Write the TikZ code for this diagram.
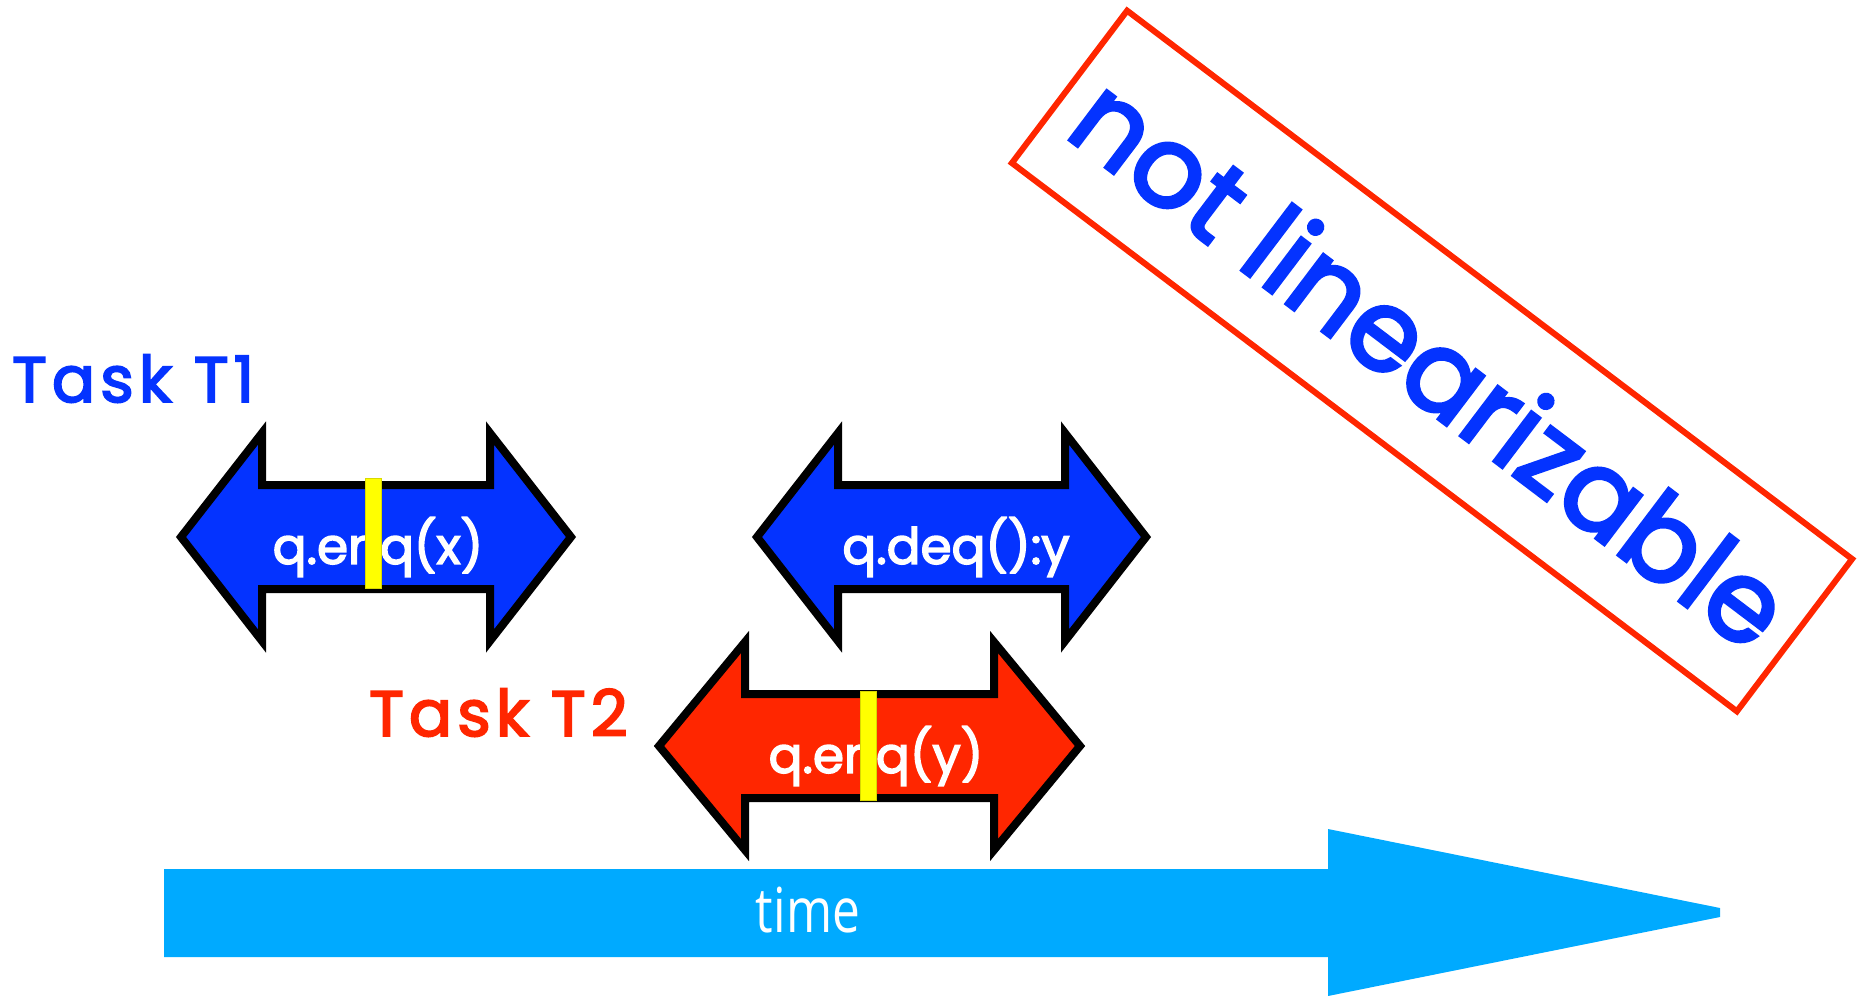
\documentclass[tikz,border=0pt]{standalone}
\usepackage{fontspec}
\setmainfont{Poppins}[FakeBold=3]
\newfontfamily\spacedfont{Poppins}[FakeBold=3, LetterSpace=8]
\newfontfamily\timefont{Open Sans}
\definecolor{taskblue}{RGB}{4,51,255}
\definecolor{taskred}{RGB}{255,38,0}
\definecolor{timecyan}{RGB}{0,170,255}
\definecolor{lpoint}{RGB}{255,255,0}

% double-headed interval arrow: centre x, centre y, half length, head length, fill
\newcommand{\intervalarrow}[5]{%
  \draw[arrowbody, fill=#5]
    ({#1-#3},#2) -- ({#1-#3+#4},{#2-104}) -- ({#1-#3+#4},{#2-52})
    -- ({#1+#3-#4},{#2-52}) -- ({#1+#3-#4},{#2-104}) -- ({#1+#3},#2)
    -- ({#1+#3-#4},{#2+104}) -- ({#1+#3-#4},{#2+52})
    -- ({#1-#3+#4},{#2+52}) -- ({#1-#3+#4},{#2+104}) -- cycle;}

\tikzset{
  arrowbody/.style={draw=black, line width=8pt, line join=miter},
  optext/.style={text=white, font=\fontsize{50}{56}\selectfont, inner sep=0pt},
  tasklabel/.style={font=\spacedfont\fontsize{64}{70}\selectfont, anchor=base west, inner sep=0pt},
  lpbar/.style={fill=lpoint, draw=lpoint!85!black, line width=1pt},
}

\begin{document}
\begin{tikzpicture}[x=1pt, y=-1pt]
\useasboundingbox (0,0) rectangle (1864,996);

% time axis
\fill[timecyan] (164,869) -- (1328,869) -- (1328,829) -- (1720,908)
  -- (1720,917) -- (1328,996) -- (1328,957) -- (164,957) -- cycle;
\node[text=white, font=\timefont\fontsize{62}{68}\selectfont, inner sep=0pt]
  (time) at (808,910) {\scalebox{0.8}[1]{time}};

% task labels
\node[tasklabel, text=taskblue] (t1) at (12,402) {Task T1};
\node[tasklabel, text=taskred] (t2) at (369,736) {Task T2};

% T1: enq(x)
\intervalarrow{376}{537}{195}{81}{taskblue}
\node[optext] (enqx) at (378,547) {q.enq(x)};
\draw[lpbar] (365,478) rectangle (381,588);

% T1: deq():y
\intervalarrow{951.5}{537}{194.5}{81}{taskblue}
\node[optext] (deqy) at (956,547) {q.deq():y};

% T2: enq(y)
\intervalarrow{869.5}{746}{210.5}{86}{taskred}
\node[optext] (enqy) at (876,756) {q.enq(y)};
\draw[lpbar] (860,691) rectangle (876,800);

% verdict
\node[draw=taskred, line width=6pt, rotate=-37.1, minimum width=909pt,
  minimum height=191pt, text=taskblue, font=\fontsize{113}{120}\selectfont]
  (verdict) at (1432,361) {not linearizable};
\end{tikzpicture}
\end{document}
